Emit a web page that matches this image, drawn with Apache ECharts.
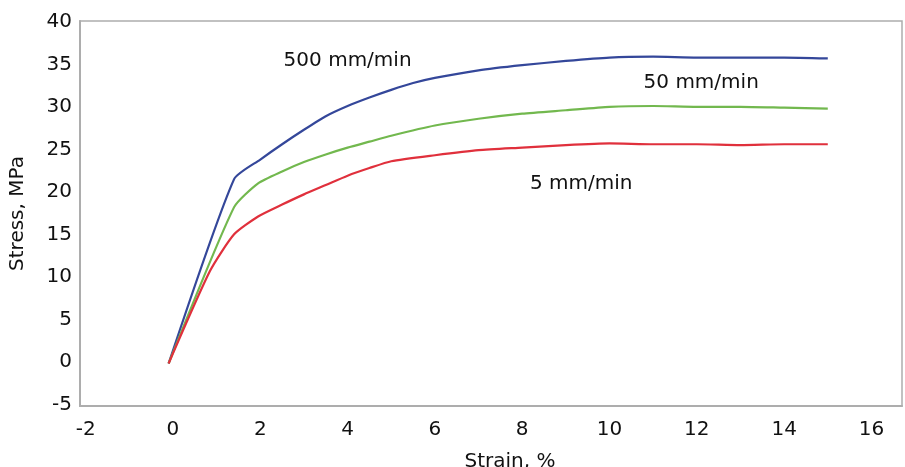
<!DOCTYPE html>
<html>
<head>
<meta charset="utf-8">
<script src="https://cdn.jsdelivr.net/npm/echarts@6/dist/echarts.min.js"></script>
<style>
html,body{margin:0;padding:0;background:#fff;}
#chart{width:905px;height:467px;}
</style>
</head>
<body>
<div id="chart"></div>
<script>
// strain (%) , stress (MPa) pairs
var rate500 = [[-0.1,-0.2],[1.4,21.5],[2,23.8],[2.5,25.6],[3,27.3],[3.5,28.9],[4,30.1],[4.5,31.1],[5,32.0],[5.5,32.8],[6,33.4],[7,34.3],[8,34.9],[9,35.4],[10,35.8],[11,35.9],[12,35.8],[13,35.8],[14,35.8],[15,35.7]];
var rate50 = [[-0.1,-0.2],[1.4,18.2],[1.95,21.0],[2.5,22.4],[3,23.5],[3.5,24.4],[4,25.2],[4.5,25.9],[5,26.6],[6,27.8],[7,28.6],[8,29.2],[9,29.6],[10,30.0],[11,30.1],[12,30.0],[13,30.0],[14,29.9],[15,29.8]];
var rate5 = [[-0.1,-0.2],[0.85,10.7],[1.4,15.0],[1.95,17.1],[2.5,18.5],[3,19.7],[3.5,20.8],[4,21.9],[4.5,22.8],[5,23.6],[6,24.3],[7,24.9],[8,25.2],[9,25.5],[10,25.7],[11,25.6],[12,25.6],[13,25.5],[14,25.6],[15,25.6]];
var xTicks = [-2,0,2,4,6,8,10,12,14,16];
var yTicks = [-5,0,5,10,15,20,25,30,35,40];
var labels = [['500 mm/min',4.0,35.4],['50 mm/min',12.1,32.8],['5 mm/min',9.35,21.0]];

var font = 'DejaVu Sans, Liberation Sans, Arial, sans-serif';
var gray = '#adadad';

function note(item){
	return {
		coord:[item[1],item[2]],
		symbol:'circle',
		symbolSize:0,
		label:{
			show:true,
			position:'inside',
			formatter:item[0],
			color:'#111',
			fontSize:20,
			fontFamily:font
		}
	};
}

function line(name,data,color,mark){
	var s = {
		name:name,
		type:'line',
		data:data,
		symbol:'none',
		smooth:0.2,
		lineStyle:{color:color,width:2.2}
	};
	if(mark) s.markPoint = {silent:true,data:[note(mark)]};
	return s;
}

var chart = echarts.init(document.getElementById('chart'));
chart.setOption({
	animation:false,
	backgroundColor:'#fff',
	grid:{left:80,top:21,right:3,bottom:61,outerBoundsMode:'none',show:true,borderColor:gray,borderWidth:1.5},
	xAxis:{
		type:'value',
		min:-2.13,
		max:16.7,
		name:'Strain, %',
		nameLocation:'middle',
		nameGap:46,
		nameTextStyle:{color:'#111',fontSize:20,fontFamily:font,padding:[0,0,0,38]},
		axisLine:{show:true,onZero:false,lineStyle:{color:gray,width:2}},
		axisTick:{show:false},
		splitLine:{show:false},
		axisLabel:{customValues:xTicks,color:'#111',fontSize:20,fontFamily:font,margin:14}
	},
	yAxis:{
		type:'value',
		min:-5.2,
		max:40.1,
		name:'Stress, MPa',
		nameLocation:'middle',
		nameGap:52,
		nameTextStyle:{color:'#111',fontSize:20,fontFamily:font},
		axisLine:{show:true,onZero:false,lineStyle:{color:gray,width:2}},
		axisTick:{show:false},
		splitLine:{show:false},
		axisLabel:{customValues:yTicks,color:'#111',fontSize:20,fontFamily:font,margin:8}
	},
	series:[
		line('500 mm/min',rate500,'#34479a',labels[0]),
		line('50 mm/min',rate50,'#72b84e',labels[1]),
		line('5 mm/min',rate5,'#e0303c',labels[2])
	]
});
</script>
</body>
</html>
